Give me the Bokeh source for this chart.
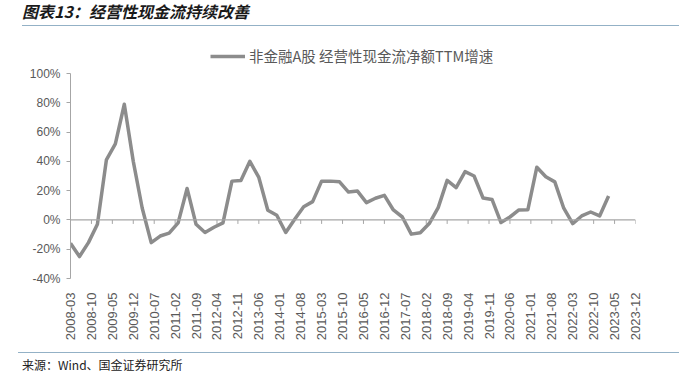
import math
from bokeh.plotting import figure
from bokeh.layouts import column
from bokeh.models import (Range1d, FixedTicker, Legend, LegendItem, Span,
                          PrintfTickFormatter, Div)
from bokeh.embed import file_html
from bokeh.resources import INLINE

# ---------------- data ----------------
title_text = "图表13：经营性现金流持续改善"
series_name = "非金融A股 经营性现金流净额TTM增速"
source_text = "来源：Wind、国金证券研究所"

# quarterly report dates 2008-03 ... 2023-03
dates = [f"{y}-{m:02d}" for y in range(2008, 2024) for m in (3, 6, 9, 12)][:61]

# growth, %
growth = [
    -16, -25, -15.5, -3,      # 2008
    41, 52, 79, 40,           # 2009
    8, -15.5, -11, -9,        # 2010
    -2, 21.5, -3, -8.6,       # 2011
    -5, -2, 26.5, 27,         # 2012
    40, 29, 6.6, 3.2,         # 2013
    -8.6, 0.5, 9, 12.5,       # 2014
    26.5, 26.5, 26, 19,       # 2015
    19.7, 11.8, 14.8, 16.8,   # 2016
    6.8, 2, -9.7, -8.8,       # 2017
    -2.5, 8.4, 27, 22,        # 2018
    33, 30, 15, 14,           # 2019
    -1.8, 2, 6.8, 7,          # 2020
    36, 29.5, 26, 8,          # 2021
    -2.5, 2.7, 5.4, 2.7,      # 2022
    16.3,                     # 2023
]

x_tick_labels = [
    "2008-03", "2008-10", "2009-05", "2009-12", "2010-07", "2011-02", "2011-09",
    "2012-04", "2012-11", "2013-06", "2014-01", "2014-08", "2015-03", "2015-10",
    "2016-05", "2016-12", "2017-07", "2018-02", "2018-09", "2019-04", "2019-11",
    "2020-06", "2021-01", "2021-08", "2022-03", "2022-10", "2023-05", "2023-12",
]
y_ticks = [-40, -20, 0, 20, 40, 60, 80, 100]


def month_index(s):
    y, m = s.split("-")
    y0, m0 = x_tick_labels[0].split("-")
    return (int(y) - int(y0)) * 12 + int(m) - int(m0)


xs = [month_index(d) for d in dates]
x_ticks = [month_index(t) for t in x_tick_labels]

# ---------------- style / layout ----------------
LINE_COLOR = "#8C8C8C"
AXIS_COLOR = "#A6A6A6"
TEXT_COLOR = "#595959"
RULE_COLOR = "#93B1C6"

TITLE_H, FOOT_H = 30, 25
FIG_H = 377 - TITLE_H - FOOT_H
AXIS_PX = 205          # pixel height of the -40%..100% span
HEAD_PX = 28           # extra frame space above 100% for the legend
y_top = y_ticks[-1] + HEAD_PX * (y_ticks[-1] - y_ticks[0]) / AXIS_PX

p = figure(width=688, height=FIG_H, output_backend="svg", toolbar_location=None,
           x_range=Range1d(x_ticks[0], x_ticks[-1]),
           y_range=Range1d(y_ticks[0], y_top),
           min_border_left=70, min_border_right=53,
           min_border_top=45 - TITLE_H,
           min_border_bottom=FIG_H - (45 - TITLE_H) - AXIS_PX - HEAD_PX)
p.outline_line_color = None
p.grid.visible = False
p.background_fill_color = "white"
p.border_fill_color = "white"

# x axis (labels only, at the bottom)
xa = p.xaxis[0]
xa.ticker = FixedTicker(ticks=x_ticks)
xa.major_label_overrides = {t: lab for t, lab in zip(x_ticks, x_tick_labels)}
xa.axis_line_color = None
xa.major_tick_line_color = None
xa.minor_tick_line_color = None
xa.major_label_orientation = math.pi / 2
xa.major_label_standoff = 8
xa.major_label_text_font = "Liberation Sans"
xa.major_label_text_font_size = "13px"
xa.major_label_text_color = TEXT_COLOR

# y axis
ya = p.yaxis[0]
ya.ticker = FixedTicker(ticks=y_ticks)
ya.bounds = (y_ticks[0], y_ticks[-1])
ya.formatter = PrintfTickFormatter(format="%d%%")
ya.axis_line_color = AXIS_COLOR
ya.major_tick_line_color = AXIS_COLOR
ya.major_tick_out = 4
ya.major_tick_in = 0
ya.minor_tick_line_color = None
ya.major_label_standoff = 6
ya.major_label_text_font = "Liberation Sans"
ya.major_label_text_font_size = "12px"
ya.major_label_text_color = TEXT_COLOR

# zero line with tick marks
p.add_layout(Span(location=0, dimension="width", line_color=AXIS_COLOR, line_width=1.2))
tick_len = 4 * (y_ticks[-1] - y_ticks[0]) / AXIS_PX
p.segment(x0=x_ticks[1:], y0=[0] * (len(x_ticks) - 1), x1=x_ticks[1:],
          y1=[-tick_len] * (len(x_ticks) - 1), line_color=AXIS_COLOR, line_width=1)

# series
r = p.line(xs, growth, line_color=LINE_COLOR, line_width=3.5, line_join="round")

legend = Legend(items=[LegendItem(label=series_name, renderers=[r])],
                location=(140, 212), orientation="horizontal",
                glyph_width=35, glyph_height=16, label_height=16,
                label_standoff=4, padding=0, margin=0, spacing=0,
                border_line_color=None, background_fill_alpha=0,
                label_text_font="Noto Sans CJK SC", label_text_font_size="14.5px",
                label_text_color=TEXT_COLOR)
p.add_layout(legend)

title_div = Div(
    text=(f'<div style="margin-left:22px;width:657px;height:{TITLE_H - 4}px;'
          f'box-sizing:border-box;border-bottom:1.5px solid {RULE_COLOR};'
          'padding-top:1px;font-family:\'Noto Sans CJK SC\';font-size:16px;'
          'line-height:20px;font-weight:bold;font-style:italic;color:#1a1a1a;'
          f'white-space:nowrap;">{title_text}</div>'),
    width=688, height=TITLE_H, margin=0)

foot_div = Div(
    text=(f'<div style="margin-left:18px;width:661px;height:{FOOT_H}px;'
          f'box-sizing:border-box;border-top:1.5px solid {RULE_COLOR};'
          'padding-top:5px;padding-left:4px;font-family:\'Noto Sans CJK SC\';'
          'font-size:12px;line-height:14px;color:#222222;white-space:nowrap;">'
          f'{source_text}</div>'),
    width=688, height=FOOT_H, margin=0)

layout = column(title_div, p, foot_div, spacing=0, margin=0)

open("out.html", "w").write(file_html(layout, INLINE))
